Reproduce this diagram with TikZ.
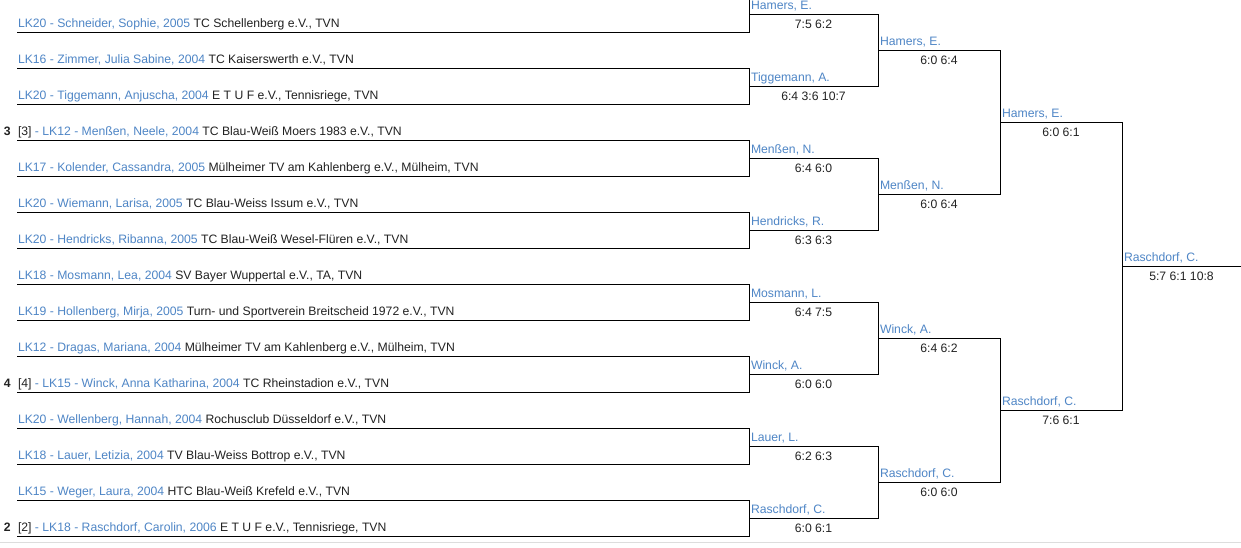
\documentclass[tikz,border=0pt]{standalone}
\usepackage{fontspec}
\setmainfont{Liberation Sans}
\definecolor{link}{HTML}{4F86C6}
\definecolor{ink}{HTML}{222222}
\definecolor{rule}{HTML}{DDDDDD}
\tikzset{
  txt/.style={inner sep=0pt, outer sep=0pt, font=\fontsize{12.2}{14}\selectfont},
  player/.style={txt, anchor=base west, text=ink},
  seednum/.style={txt, anchor=base west, text=ink, font=\fontsize{12.2}{14}\selectfont\bfseries},
  winner/.style={txt, anchor=base west, text=link},
  score/.style={txt, anchor=base, text=ink},
  ln/.style={draw=black, line width=1pt, line cap=rect},
}
\newcommand{\pl}[2]{\textcolor{link}{#1}\ \textcolor{ink}{#2}}
\newcommand{\sd}[3]{\textcolor{ink}{[#1]}\ \textcolor{link}{-\ #2}\ \textcolor{ink}{#3}}
\begin{document}
\begin{tikzpicture}[x=1pt,y=-1pt]
\useasboundingbox (0,0) rectangle (1241,547);
\fill[white] (0,0) rectangle (1241,547);
\draw[draw=rule, line width=1pt] (0,542.5) -- (1241,542.5);

% row coordinates
\foreach \k in {0,...,15}{
  \coordinate (L\k) at (17,{32+36*(\k-1)});
  \coordinate (R\k) at (749,{32+36*(\k-1)});
}
% round coordinates
\foreach \i in {0,...,7}{
  \coordinate (A\i) at (749,{14+72*\i});
  \coordinate (B\i) at (878,{14+72*\i});
}
\foreach \j in {0,...,3}{
  \coordinate (C\j) at (878,{50+144*\j});
  \coordinate (D\j) at (1000,{50+144*\j});
}
\foreach \m in {0,1}{
  \coordinate (E\m) at (1000,{122+288*\m});
  \coordinate (F\m) at (1122,{122+288*\m});
}
\coordinate (G) at (1122,266);
\coordinate (H) at (1241,266);

% player rows
\foreach \k in {1,...,15}{ \draw[ln] (L\k) -- (R\k); }
% first round
\foreach \i [evaluate=\i as \a using int(2*\i), evaluate=\i as \b using int(2*\i+1)] in {0,...,7}{
  \draw[ln] (R\a) -- (R\b);
  \draw[ln] (A\i) -- (B\i);
}
% second round
\foreach \j [evaluate=\j as \a using int(2*\j), evaluate=\j as \b using int(2*\j+1)] in {0,...,3}{
  \draw[ln] (B\a) -- (B\b);
  \draw[ln] (C\j) -- (D\j);
}
% third round
\draw[ln] (D0) -- (D1);
\draw[ln] (D2) -- (D3);
\draw[ln] (E0) -- (F0);
\draw[ln] (E1) -- (F1);
% final
\draw[ln] (F0) -- (F1);
\draw[ln] (G) -- (H);

% player texts
\node[player] (p1) at (18,27) {\pl{LK20 - Schneider, Sophie, 2005}{TC Schellenberg e.V., TVN}};
\node[player] (p2) at (18,63) {\pl{LK16 - Zimmer, Julia Sabine, 2004}{TC Kaiserswerth e.V., TVN}};
\node[player] (p3) at (18,99) {\pl{LK20 - Tiggemann, Anjuscha, 2004}{E T U F e.V., Tennisriege, TVN}};
\node[seednum] (s4) at (4,135) {3};
\node[player] (p4) at (18,135) {\sd{3}{LK12 - Menßen, Neele, 2004}{TC Blau-Weiß Moers 1983 e.V., TVN}};
\node[player] (p5) at (18,171) {\pl{LK17 - Kolender, Cassandra, 2005}{Mülheimer TV am Kahlenberg e.V., Mülheim, TVN}};
\node[player] (p6) at (18,207) {\pl{LK20 - Wiemann, Larisa, 2005}{TC Blau-Weiss Issum e.V., TVN}};
\node[player] (p7) at (18,243) {\pl{LK20 - Hendricks, Ribanna, 2005}{TC Blau-Weiß Wesel-Flüren e.V., TVN}};
\node[player] (p8) at (18,279) {\pl{LK18 - Mosmann, Lea, 2004}{SV Bayer Wuppertal e.V., TA, TVN}};
\node[player] (p9) at (18,315) {\pl{LK19 - Hollenberg, Mirja, 2005}{Turn- und Sportverein Breitscheid 1972 e.V., TVN}};
\node[player] (p10) at (18,351) {\pl{LK12 - Dragas, Mariana, 2004}{Mülheimer TV am Kahlenberg e.V., Mülheim, TVN}};
\node[seednum] (s11) at (4,387) {4};
\node[player] (p11) at (18,387) {\sd{4}{LK15 - Winck, Anna Katharina, 2004}{TC Rheinstadion e.V., TVN}};
\node[player] (p12) at (18,423) {\pl{LK20 - Wellenberg, Hannah, 2004}{Rochusclub Düsseldorf e.V., TVN}};
\node[player] (p13) at (18,459) {\pl{LK18 - Lauer, Letizia, 2004}{TV Blau-Weiss Bottrop e.V., TVN}};
\node[player] (p14) at (18,495) {\pl{LK15 - Weger, Laura, 2004}{HTC Blau-Weiß Krefeld e.V., TVN}};
\node[seednum] (s15) at (4,531) {2};
\node[player] (p15) at (18,531) {\sd{2}{LK18 - Raschdorf, Carolin, 2006}{E T U F e.V., Tennisriege, TVN}};

% round 1 winners
\foreach \i/\n/\s in {0/{Hamers, E.}/{7:5 6:2}, 1/{Tiggemann, A.}/{6:4 3:6 10:7},
  2/{Menßen, N.}/{6:4 6:0}, 3/{Hendricks, R.}/{6:3 6:3}, 4/{Mosmann, L.}/{6:4 7:5},
  5/{Winck, A.}/{6:0 6:0}, 6/{Lauer, L.}/{6:2 6:3}, 7/{Raschdorf, C.}/{6:0 6:1}}{
  \node[winner] (wa\i) at ([xshift=2pt,yshift=5pt]A\i) {\n};
  \node[score] (sa\i) at ([xshift=64.5pt,yshift=-14pt]A\i) {\s};
}
% round 2 winners
\foreach \j/\n/\s in {0/{Hamers, E.}/{6:0 6:4}, 1/{Menßen, N.}/{6:0 6:4},
  2/{Winck, A.}/{6:4 6:2}, 3/{Raschdorf, C.}/{6:0 6:0}}{
  \node[winner] (wc\j) at ([xshift=2pt,yshift=5pt]C\j) {\n};
  \node[score] (sc\j) at ([xshift=61pt,yshift=-14pt]C\j) {\s};
}
% round 3 winners
\foreach \m/\n/\s in {0/{Hamers, E.}/{6:0 6:1}, 1/{Raschdorf, C.}/{7:6 6:1}}{
  \node[winner] (we\m) at ([xshift=2pt,yshift=5pt]E\m) {\n};
  \node[score] (se\m) at ([xshift=61pt,yshift=-14pt]E\m) {\s};
}
% champion
\node[winner] (wg) at ([xshift=2pt,yshift=5pt]G) {Raschdorf, C.};
\node[score] (sg) at ([xshift=59.5pt,yshift=-14pt]G) {5:7 6:1 10:8};
\end{tikzpicture}
\end{document}
